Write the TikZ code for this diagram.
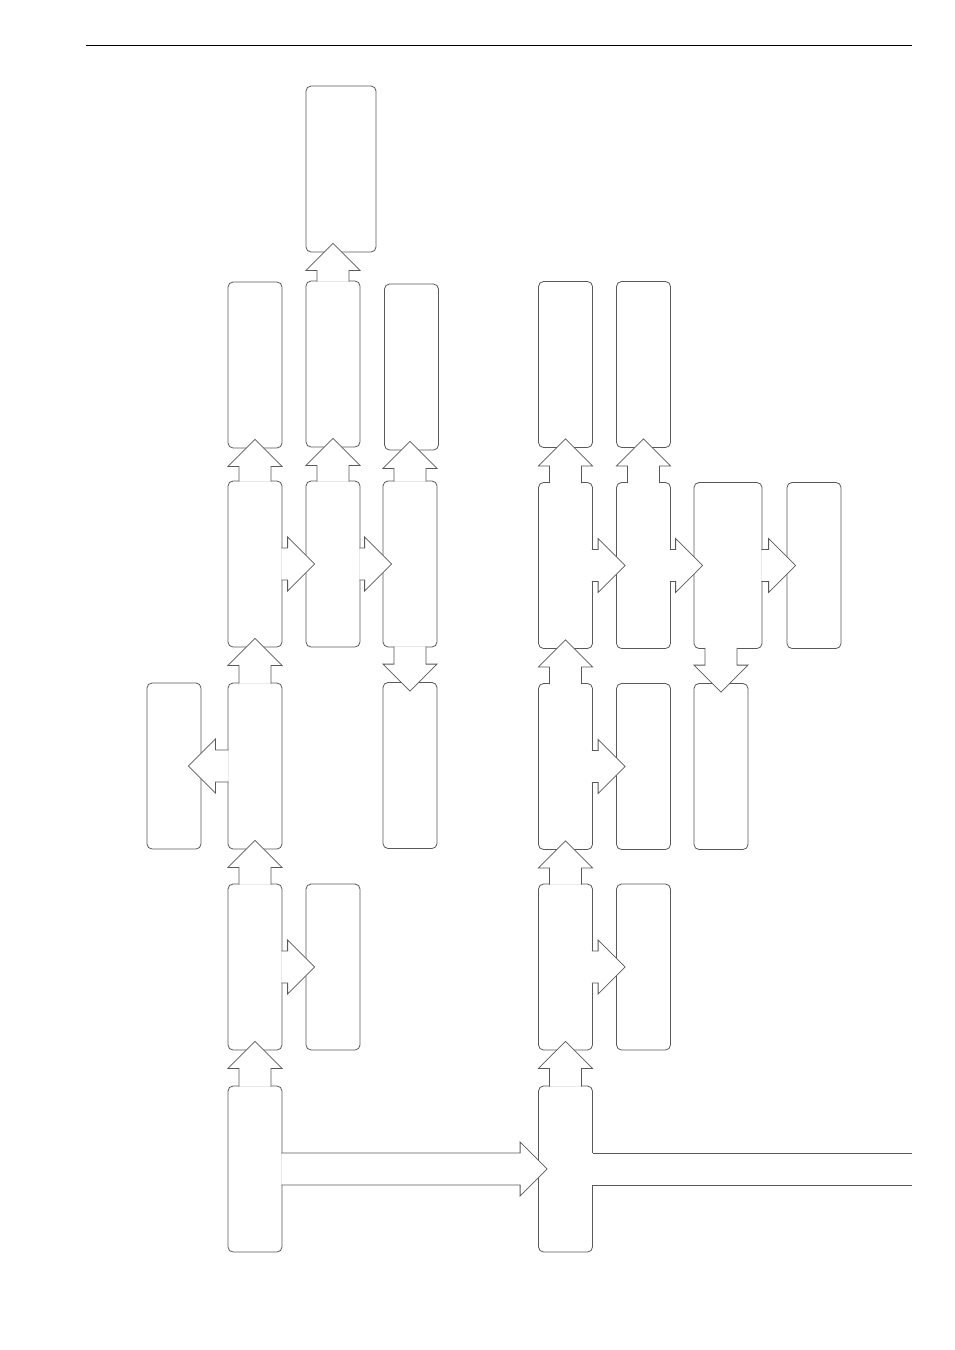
\documentclass[tikz,border=0pt]{standalone}
\usetikzlibrary{calc}
\tikzset{
  box/.style={draw=black!65, line width=0.8pt, fill=white, rounded corners=5pt,
    minimum width=54pt, minimum height=166pt, inner sep=0pt},
  blockup/.style={fill=white, to path={let \p1=(\tikztostart.north), \p2=(\tikztotarget.south) in
    (\x1-16pt,\y1-1pt) -- (\x1-16pt,\y2-18pt) -- (\x1-27pt,\y2-18pt) -- (\x1,\y2+9pt)
    -- (\x1+27pt,\y2-18pt) -- (\x1+16pt,\y2-18pt) -- (\x1+16pt,\y1-1pt)}},
  blockdown/.style={fill=white, to path={let \p1=(\tikztostart.south), \p2=(\tikztotarget.north) in
    (\x2-16pt,\y1+1pt) -- (\x2-16pt,\y2+18pt) -- (\x2-27pt,\y2+18pt) -- (\x2,\y2-9pt)
    -- (\x2+27pt,\y2+18pt) -- (\x2+16pt,\y2+18pt) -- (\x2+16pt,\y1+1pt)}},
  blockright/.style={fill=white, to path={let \p1=(\tikztostart.east), \p2=(\tikztotarget.west) in
    (\x1-1pt,\y1+16pt) -- (\x2-18pt,\y1+16pt) -- (\x2-18pt,\y1+27pt) -- (\x2+9pt,\y1)
    -- (\x2-18pt,\y1-27pt) -- (\x2-18pt,\y1-16pt) -- (\x1-1pt,\y1-16pt)}},
  blockleft/.style={fill=white, to path={let \p1=(\tikztostart.west), \p2=(\tikztotarget.east) in
    (\x1+1pt,\y1+16pt) -- (\x2+14pt,\y1+16pt) -- (\x2+14pt,\y1+27pt) -- (\x2-13pt,\y1)
    -- (\x2+14pt,\y1-27pt) -- (\x2+14pt,\y1-16pt) -- (\x1+1pt,\y1-16pt)}},
  blockstub/.style={to path={let \p1=(\tikztostart.east), \p2=(\tikztotarget) in
    (\x1,\y1+16pt) -- (\x2,\y1+16pt) (\x1,\y1-16pt) -- (\x2,\y1-16pt)}}
}
\begin{document}
\begin{tikzpicture}[x=1pt, y=-1pt]
      \useasboundingbox (0,0) rectangle (954,1350);
      \draw[line width=1pt] (86,45) -- (912,45);
      \draw
        (255,1169) node[box] (0){}
        (255,967) node[box] (1){}
        (255,766) node[box] (2){}
        (255,564) node[box] (3){}
        (255,365) node[box] (4){}
        (174,766) node[box] (5){}
        (333,967) node[box] (6){}
        (333,564) node[box] (7){}
        (333,364) node[box] (8){}
        (341,169) node[box, minimum width=70pt] (9){}
        (411.5,367) node[box] (10){}
        (410,564) node[box] (11){}
        (410,765.5) node[box] (12){}
        (565.5,1169) node[box] (13){}
        (565.5,967) node[box] (14){}
        (565.5,766.5) node[box] (15){}
        (565.5,565.5) node[box] (16){}
        (565.5,364.5) node[box] (17){}
        (643.5,967) node[box] (18){}
        (643.5,766.5) node[box] (19){}
        (643.5,565.5) node[box] (20){}
        (643.5,364.5) node[box] (21){}
        (728,565.5) node[box, minimum width=68pt] (22){}
        (721,766.5) node[box] (23){}
        (814,565.5) node[box] (24){}
        (912,1169) coordinate (end);
      \begin{scope}[draw=black!65, line width=0.8pt]
        \draw[blockup] (0) to (1);
        \draw[blockup] (1) to (2);
        \draw[blockup] (2) to (3);
        \draw[blockup] (3) to (4);
        \draw[blockup] (7) to (8);
        \draw[blockup] (8) to (9);
        \draw[blockup] (11) to (10);
        \draw[blockdown] (11) to (12);
        \draw[blockleft] (2) to (5);
        \draw[blockright] (1) to (6);
        \draw[blockright] (3) to (7);
        \draw[blockright] (7) to (11);
        \draw[blockright] (0) to (13);
        \draw[blockup] (13) to (14);
        \draw[blockup] (14) to (15);
        \draw[blockup] (15) to (16);
        \draw[blockup] (16) to (17);
        \draw[blockup] (20) to (21);
        \draw[blockright] (14) to (18);
        \draw[blockright] (15) to (19);
        \draw[blockright] (16) to (20);
        \draw[blockright] (20) to (22);
        \draw[blockright] (22) to (24);
        \draw[blockdown] (22) to (23);
        \fill[white] let \p1=(13.east), \p2=(end) in (\x1-1pt,\y1-16pt) rectangle (\x2,\y1+16pt);
        \draw[blockstub] (13) to (end);
      \end{scope}
    \end{tikzpicture}
\end{document}
